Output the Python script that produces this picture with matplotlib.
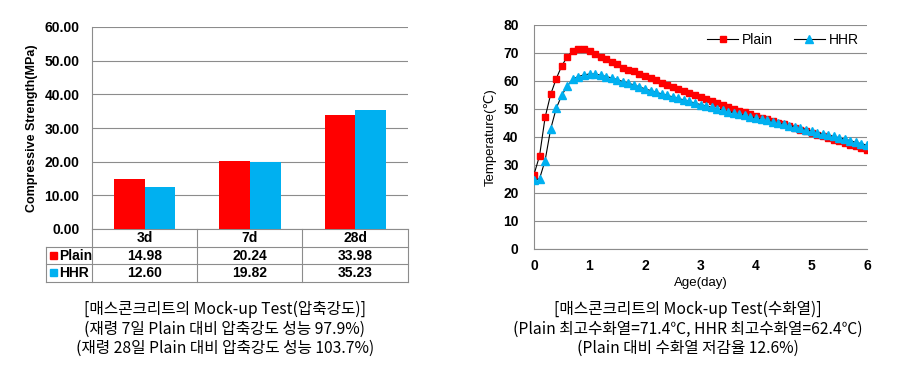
import matplotlib
matplotlib.use("Agg")
import matplotlib.pyplot as plt
from matplotlib.lines import Line2D
from matplotlib.patches import Rectangle
import matplotlib.transforms as mtrans
import numpy as np

plt.rcParams['font.family'] = ['Liberation Sans', 'DejaVu Sans']

# ---------------- data ----------------
ages = ['3d', '7d', '28d']
plain_strength = [14.98, 20.24, 33.98]
hhr_strength = [12.60, 19.82, 35.23]
strength_ticks = [0, 10, 20, 30, 40, 50, 60]

days = [round(0.1 * i, 1) for i in range(61)]
plain_temp = [26.6, 33.3, 47.0, 55.2, 60.8, 65.4, 68.7, 70.8, 71.6, 71.6,
              70.8, 69.8, 68.4, 67.7, 66.7, 65.9, 64.8, 64.1, 63.4, 62.6,
              61.7, 60.9, 60.2, 59.3, 58.6, 57.9, 57.1, 56.4, 55.6, 54.9,
              54.2, 53.5, 52.8, 52.1, 51.4, 50.8, 50.1, 49.4, 48.8, 48.2,
              47.6, 46.9, 46.3, 45.7, 45.1, 44.5, 43.9, 43.2, 42.6, 42.0,
              41.4, 40.8, 40.2, 39.6, 39.0, 38.5, 37.9, 37.3, 36.7, 36.1,
              35.5]
hhr_temp = [24.5, 25.1, 31.6, 42.8, 50.2, 54.9, 58.2, 60.7, 61.6, 62.2,
            62.5, 62.5, 62.1, 61.6, 61.1, 60.5, 59.8, 59.2, 58.6, 57.9,
            57.2, 56.6, 56.0, 55.4, 54.9, 54.3, 53.8, 53.2, 52.7, 52.1,
            51.6, 51.1, 50.6, 50.1, 49.6, 49.1, 48.7, 48.2, 47.7, 47.3,
            46.8, 46.4, 45.9, 45.5, 45.0, 44.5, 44.1, 43.6, 43.1, 42.6,
            42.1, 41.6, 41.1, 40.6, 40.2, 39.7, 39.2, 38.7, 38.1, 37.6,
            37.1]
temp_ticks = [0, 10, 20, 30, 40, 50, 60, 70, 80]
day_ticks = [0, 1, 2, 3, 4, 5, 6]

caption_left = ["[매스콘크리트의 Mock-up Test(압축강도)]",
                "(재령 7일 Plain 대비 압축강도 성능 97.9%)",
                "(재령 28일 Plain 대비 압축강도 성능 103.7%)"]
caption_right = ["[매스콘크리트의 Mock-up Test(수화열)]",
                 "(Plain 최고수화열=71.4℃, HHR 최고수화열=62.4℃)",
                 "(Plain 대비 수화열 저감율 12.6%)"]

RED = '#FF0000'
CYAN = '#00B0F0'
GRID = '#8C8C8C'
W, H = 902, 371

fig = plt.figure(figsize=(W / 100, H / 100), dpi=100)
fig.patch.set_facecolor('white')


def fx(x):
    return x / W


def fy(y):
    return 1 - y / H


# ---------------- left chart ----------------
ax1 = fig.add_axes([fx(92), fy(229), fx(408) - fx(92), fy(27) - fy(229)])
x = np.arange(len(ages))
bw = 0.29
ax1.bar(x - bw / 2, plain_strength, bw, color=RED, zorder=3)
ax1.bar(x + bw / 2, hhr_strength, bw, color=CYAN, zorder=3)
ax1.set_xlim(-0.5, len(ages) - 0.5)
ax1.set_ylim(0, 60)
ax1.set_yticks(strength_ticks)
ax1.set_yticklabels([f"{v:.2f}" for v in strength_ticks], fontsize=10, fontweight='bold')
ax1.yaxis.grid(True, color=GRID, linewidth=0.8, zorder=0)
ax1.set_xticks([])
ax1.tick_params(axis='y', length=0, pad=9)
for s in ['top', 'right']:
    ax1.spines[s].set_visible(False)
ax1.spines['left'].set_color(GRID)
ax1.spines['bottom'].set_color(GRID)
ax1.set_ylabel("Compressive Strength(MPa)", fontsize=9, fontweight='bold', labelpad=5)

# data table below the chart
bt = mtrans.blended_transform_factory(ax1.transData, fig.transFigure)
lc = '#8C8C8C'
for yv in [247, 264, 282]:
    fig.add_artist(Line2D([fx(46), fx(408)], [fy(yv), fy(yv)], color=lc, lw=0.8))
fig.add_artist(Line2D([fx(46), fx(46)], [fy(247), fy(282)], color=lc, lw=0.8))
for xv in [92, 197, 302, 408]:
    fig.add_artist(Line2D([fx(xv), fx(xv)], [fy(229), fy(282)], color=lc, lw=0.8))

for i, a in enumerate(ages):
    fig.text(i, fy(238), a, transform=bt, ha='center', va='center', fontsize=10, fontweight='bold')
    fig.text(i, fy(255.5), f"{plain_strength[i]:.2f}", transform=bt, ha='center', va='center',
             fontsize=10, fontweight='bold')
    fig.text(i, fy(273), f"{hhr_strength[i]:.2f}", transform=bt, ha='center', va='center',
             fontsize=10, fontweight='bold')
fig.add_artist(Rectangle((fx(50), fy(259)), fx(57) - fx(50), fy(252) - fy(259), color=RED,
                         transform=fig.transFigure))
fig.add_artist(Rectangle((fx(50), fy(276)), fx(57) - fx(50), fy(269) - fy(276), color=CYAN,
                         transform=fig.transFigure))
fig.text(fx(59), fy(255.5), "Plain", ha='left', va='center', fontsize=10, fontweight='bold')
fig.text(fx(59), fy(273), "HHR", ha='left', va='center', fontsize=10, fontweight='bold')

# ---------------- right chart ----------------
ax2 = fig.add_axes([fx(534), fy(249), fx(867) - fx(534), fy(25) - fy(249)])
ax2.plot(days, plain_temp, color='black', lw=0.8, marker='s', markersize=4.2,
         markerfacecolor=RED, markeredgecolor=RED, label='Plain', zorder=3)
ax2.plot(days, hhr_temp, color='black', lw=0.8, marker='^', markersize=5.2,
         markerfacecolor=CYAN, markeredgecolor=CYAN, label='HHR', zorder=3)
ax2.set_xlim(0, 6)
ax2.set_ylim(0, 80)
ax2.set_yticks(temp_ticks)
ax2.set_xticks(day_ticks)
ax2.set_yticklabels([str(v) for v in temp_ticks], fontsize=10, fontweight='bold')
ax2.set_xticklabels([str(v) for v in day_ticks], fontsize=10, fontweight='bold')
ax2.yaxis.grid(True, color=GRID, linewidth=0.8, zorder=0)
ax2.tick_params(axis='both', length=0)
ax2.tick_params(axis='y', pad=11)
ax2.tick_params(axis='x', pad=7)
for s in ['top', 'right']:
    ax2.spines[s].set_visible(False)
ax2.spines['left'].set_color(GRID)
ax2.spines['bottom'].set_color(GRID)
ax2.set_ylabel("Temperature(℃)", fontsize=9.5, labelpad=5)
ax2.set_xlabel("Age(day)", fontsize=9.5, labelpad=3)
ax2.legend(loc='upper right', ncol=2, frameon=False, fontsize=10, handlelength=2.2,
           columnspacing=1.5, handletextpad=0.3, bbox_to_anchor=(1.0, 1.0),
           borderaxespad=0.2)

# ---------------- captions ----------------
cap_font = ['Noto Sans CJK KR', 'DejaVu Sans']
for yy, t in zip([309, 329, 348], caption_left):
    fig.text(fx(225), fy(yy), t, ha='center', va='center', fontsize=11.3, family=cap_font)
for yy, t in zip([309, 329, 348], caption_right):
    fig.text(fx(688), fy(yy), t, ha='center', va='center', fontsize=11.3, family=cap_font)

fig.savefig("out.png", dpi=100)
